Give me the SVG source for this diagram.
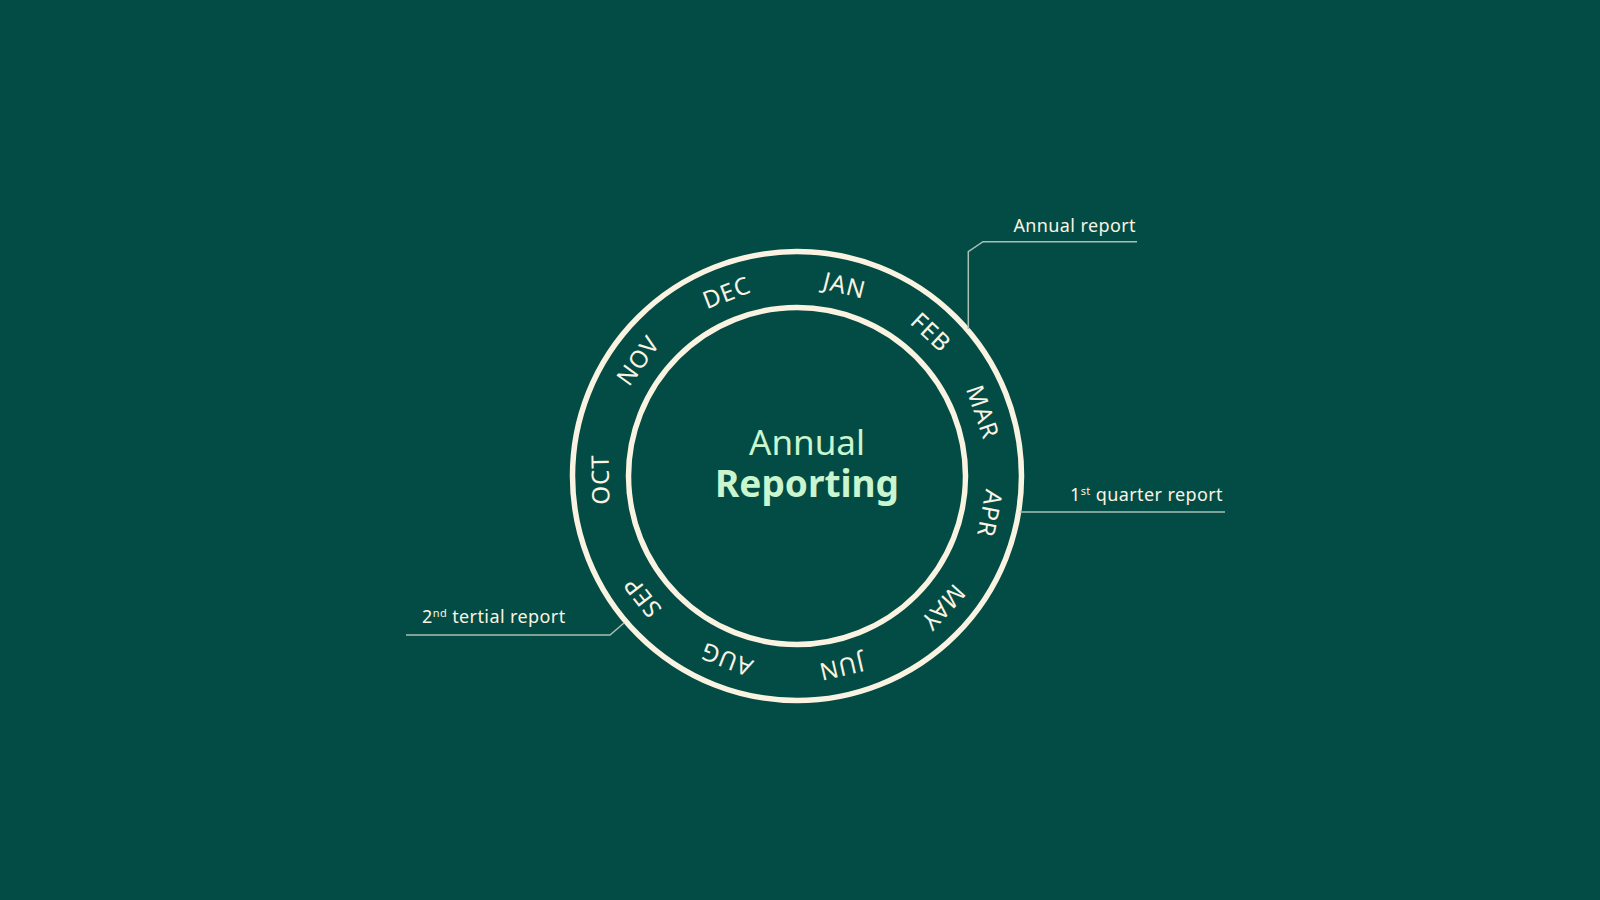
<svg xmlns="http://www.w3.org/2000/svg" width="1600" height="900" viewBox="0 0 1600 900">
<style>
.ring{fill:none;stroke:#fbf3e2;stroke-width:5.5}
.month{font-family:"Noto Sans","Liberation Sans",sans-serif;font-size:24px;fill:#fbf3e2;text-anchor:middle;letter-spacing:1px}
.call{font-family:"Noto Sans","Liberation Sans",sans-serif;font-size:18px;fill:#fbf3e2;letter-spacing:0.4px}
.sup{font-size:11px}
.lead{fill:none;stroke:#a9bfb3;stroke-width:1.5}
.center{font-family:"Noto Sans","Liberation Sans",sans-serif;fill:#c9f5cf;text-anchor:middle}
</style>
<rect width="1600" height="900" fill="#034c45"/>
<g id="wheel">
<circle class="ring" cx="797" cy="476" r="224.5"/>
<circle class="ring" cx="797" cy="476" r="168.5"/>
</g>
<g id="months">
<text class="month" x="797" y="288" transform="rotate(14 797 476)">JAN</text>
<text class="month" x="797" y="288" transform="rotate(43 797 476)">FEB</text>
<text class="month" x="797" y="288" transform="rotate(71 797 476)">MAR</text>
<text class="month" x="797" y="288" transform="rotate(101 797 476)">APR</text>
<text class="month" x="797" y="288" transform="rotate(132 797 476)">MAY</text>
<text class="month" x="797" y="288" transform="rotate(167 797 476)">JUN</text>
<text class="month" x="797" y="288" transform="rotate(201 797 476)">AUG</text>
<text class="month" x="797" y="288" transform="rotate(232 797 476)">SEP</text>
<text class="month" x="797" y="288" transform="rotate(269 797 476)">OCT</text>
<text class="month" x="797" y="288" transform="rotate(306 797 476)">NOV</text>
<text class="month" x="797" y="288" transform="rotate(339 797 476)">DEC</text>
</g>
<g id="title">
<text class="center" x="807" y="455" font-size="35" font-weight="400">Annual</text>
<text class="center" x="807" y="497" font-size="37" font-weight="700">Reporting</text>
</g>
<g id="connectors">
<path class="lead" d="M1137 241.7 H983 L968.3 251.7 V329"/>
<path class="lead" d="M1020 512 H1225"/>
<path class="lead" d="M406 635 H610 L624 623"/>
</g>
<g id="annual-report">
<text class="call" x="1136" y="232" text-anchor="end">Annual report</text>
</g>
<g id="q1-report">
<text class="call" x="1223" y="501" text-anchor="end">1<tspan class="sup" dy="-6">st</tspan><tspan dy="6"> quarter report</tspan></text>
</g>
<g id="t2-report">
<text class="call" x="422" y="623">2<tspan class="sup" dy="-6">nd</tspan><tspan dy="6"> tertial report</tspan></text>
</g>
</svg>
